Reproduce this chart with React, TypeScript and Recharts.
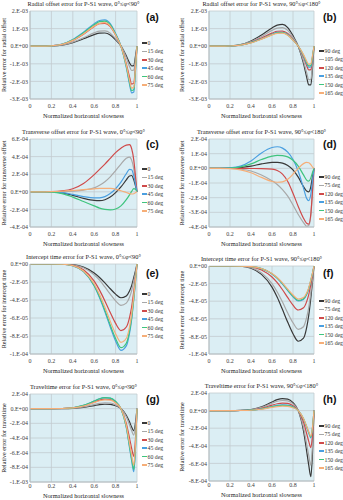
import React from 'react';
import { LineChart, Line, XAxis, YAxis, CartesianGrid } from 'recharts';

// ---- data ----
const X = [0, 0.1, 0.2, 0.3, 0.4, 0.5, 0.6, 0.65, 0.7, 0.75, 0.8, 0.85, 0.9, 0.93, 0.95, 0.97, 0.985, 1];
const X_TICKS = [0, 0.2, 0.4, 0.6, 0.8, 1];

const LEFT_NAMES = ['0', '15 deg', '30 deg', '45 deg', '60 deg', '75 deg'];
const RIGHT_NAMES_B = ['90 deg', '105 deg', '120 deg', '135 deg', '150 deg', '165 deg'];
const RIGHT_NAMES = ['90 deg', '75 deg', '120 deg', '135 deg', '150 deg', '165 deg'];

// (a) radial offset, 0-90 (x1e-3)
const A0 = [0, 0, 0.01, 0.06, 0.2, 0.42, 0.66, 0.74, 0.75, 0.64, 0.36, 0.02, -0.55, -0.95, -1.12, -1.1, -0.6, 0];
const A15 = [0, 0, 0.01, 0.07, 0.23, 0.48, 0.76, 0.86, 0.87, 0.74, 0.42, 0.02, -0.65, -1.15, -1.38, -1.35, -0.75, 0];
const A30 = [0, 0, 0.02, 0.1, 0.32, 0.68, 1.12, 1.28, 1.3, 1.12, 0.64, 0.0, -1.0, -1.75, -2.15, -2.1, -1.2, 0];
const A45 = [0, 0, 0.02, 0.12, 0.38, 0.8, 1.28, 1.46, 1.5, 1.28, 0.72, 0.0, -1.2, -2.15, -2.65, -2.6, -1.5, 0];
const A60 = [0, 0, 0.02, 0.11, 0.36, 0.76, 1.22, 1.4, 1.43, 1.22, 0.68, 0.0, -1.15, -2.05, -2.52, -2.48, -1.4, 0];
const A75 = [0, 0, 0.02, 0.1, 0.33, 0.7, 1.14, 1.3, 1.34, 1.14, 0.64, 0.0, -1.08, -1.92, -2.38, -2.33, -1.3, 0];

// (b) radial offset, 90-180 (x1e-3)
const B90 = [0, 0, 0.02, 0.09, 0.3, 0.64, 1.04, 1.2, 1.24, 1.06, 0.6, 0.0, -0.98, -1.75, -2.2, -2.2, -1.3, 0];
const B105 = [0, 0, 0.02, 0.08, 0.26, 0.55, 0.9, 1.03, 1.06, 0.9, 0.5, 0.0, -0.85, -1.5, -1.9, -1.9, -1.1, 0];
const B120 = [0, 0, 0.01, 0.07, 0.22, 0.46, 0.74, 0.85, 0.86, 0.72, 0.4, 0.0, -0.62, -1.1, -1.35, -1.33, -0.75, 0];
const B135 = [0, 0, 0.01, 0.06, 0.2, 0.42, 0.68, 0.78, 0.79, 0.66, 0.36, 0.0, -0.56, -0.98, -1.2, -1.18, -0.68, 0];
const B150 = [0, 0, 0.01, 0.06, 0.2, 0.41, 0.66, 0.76, 0.77, 0.64, 0.35, 0.0, -0.52, -0.92, -1.12, -1.1, -0.62, 0];
const B165 = [0, 0, 0.01, 0.06, 0.19, 0.4, 0.64, 0.73, 0.74, 0.62, 0.34, 0.0, -0.48, -0.85, -1.03, -1.0, -0.56, 0];

// (c) transverse offset, 0-90 (x1e-4)
const C0 = [0, 0, -0.02, -0.12, -0.4, -0.75, -0.98, -1.0, -0.9, -0.6, -0.1, 0.55, 1.35, 1.8, 1.85, 1.35, 0.7, 0];
const C15 = [0, 0, 0, 0.02, 0.08, 0.2, 0.45, 0.75, 1.15, 1.7, 2.4, 3.15, 3.8, 3.95, 3.6, 2.6, 1.3, 0];
const C30 = [0, 0, 0.02, 0.1, 0.35, 0.95, 1.95, 2.55, 3.15, 3.8, 4.45, 4.95, 5.3, 5.35, 4.9, 3.6, 1.9, 0];
const C45 = [0, 0, -0.02, -0.1, -0.3, -0.55, -0.7, -0.68, -0.55, -0.2, 0.35, 1.1, 2.05, 2.55, 2.5, 1.8, 0.9, 0];
const C60 = [0, 0, -0.03, -0.2, -0.6, -1.1, -1.6, -1.85, -2.0, -2.05, -1.95, -1.6, -0.9, -0.35, 0.05, 0.35, 0.3, 0];
const C75 = [0, 0, 0.01, 0.06, 0.15, 0.25, 0.34, 0.38, 0.4, 0.38, 0.3, 0.12, -0.08, -0.2, -0.25, -0.22, -0.1, 0];

// (d) transverse offset, 90-180 (x1e-4)
const D90 = [0, 0, 0.01, 0.05, 0.15, 0.3, 0.4, 0.41, 0.36, 0.2, -0.1, -0.6, -1.25, -1.55, -1.6, -1.25, -0.6, 0];
const D75 = [0, 0, -0.01, -0.06, -0.18, -0.45, -0.85, -1.1, -1.45, -1.9, -2.5, -3.15, -3.7, -3.95, -3.9, -3.2, -1.7, 0];
const D120 = [0, 0, 0, 0, -0.01, -0.02, -0.06, -0.15, -0.4, -0.9, -1.7, -2.6, -3.4, -3.75, -3.8, -3.1, -1.6, 0];
const D135 = [0, 0, 0.03, 0.15, 0.5, 1.05, 1.42, 1.47, 1.38, 1.1, 0.6, -0.2, -1.35, -2.05, -2.2, -1.75, -0.9, 0];
const D150 = [0, 0, 0.02, 0.1, 0.3, 0.6, 0.83, 0.88, 0.87, 0.78, 0.55, 0.15, -0.45, -0.8, -0.87, -0.65, -0.3, 0];
const D165 = [0, 0, -0.02, -0.1, -0.3, -0.62, -0.9, -0.95, -0.92, -0.75, -0.4, 0.0, 0.32, 0.4, 0.38, 0.25, 0.1, 0];

// (e) intercept time, 0-90 (x1e-5)
const E0 = [0, 0, 0, -0.01, -0.08, -0.35, -1.0, -1.5, -2.1, -2.75, -3.35, -3.75, -3.55, -3.0, -2.4, -1.5, -0.8, 0];
const E15 = [0, 0, 0, -0.01, -0.1, -0.42, -1.2, -1.8, -2.55, -3.35, -4.1, -4.6, -4.35, -3.7, -2.95, -1.85, -1.0, 0];
const E30 = [0, 0, 0, -0.02, -0.15, -0.65, -1.9, -2.9, -4.1, -5.4, -6.6, -7.4, -7.0, -5.95, -4.75, -3.0, -1.6, 0];
const E45 = [0, 0, 0, -0.03, -0.2, -0.85, -2.45, -3.75, -5.3, -7.0, -8.55, -9.6, -9.1, -7.7, -6.15, -3.9, -2.1, 0];
const E60 = [0, 0, 0, -0.03, -0.19, -0.82, -2.38, -3.63, -5.13, -6.78, -8.28, -9.3, -8.8, -7.45, -5.95, -3.8, -2.0, 0];
const E75 = [0, 0, 0, -0.03, -0.18, -0.77, -2.22, -3.4, -4.8, -6.35, -7.75, -8.7, -8.25, -7.0, -5.55, -3.55, -1.9, 0];

// (f) intercept time, 90-180 (x1e-5)
const F90 = [0, 0, 0, -0.03, -0.25, -0.95, -2.4, -3.55, -4.95, -6.4, -7.7, -8.55, -8.2, -7.0, -5.6, -3.6, -1.9, 0];
const F75 = [0, 0, 0, -0.02, -0.2, -0.78, -2.0, -2.95, -4.1, -5.35, -6.45, -7.2, -6.9, -5.85, -4.7, -3.0, -1.6, 0];
const F120 = [0, 0, 0, -0.01, -0.1, -0.45, -1.25, -1.9, -2.7, -3.6, -4.45, -5.0, -4.75, -4.05, -3.25, -2.1, -1.1, 0];
const F135 = [0, 0, 0, -0.01, -0.07, -0.3, -0.9, -1.4, -2.05, -2.8, -3.5, -3.98, -3.8, -3.25, -2.6, -1.65, -0.9, 0];
const F150 = [0, 0, 0, -0.01, -0.07, -0.3, -0.88, -1.37, -2.0, -2.74, -3.43, -3.9, -3.72, -3.18, -2.55, -1.62, -0.88, 0];
const F165 = [0, 0, 0, -0.01, -0.06, -0.28, -0.84, -1.31, -1.92, -2.64, -3.3, -3.75, -3.58, -3.06, -2.45, -1.56, -0.84, 0];

// (g) traveltime, 0-90 (x1e-4)
const G0 = [0, 0, 0, 0.01, 0.05, 0.18, 0.42, 0.54, 0.6, 0.58, 0.4, 0.02, -0.9, -1.8, -2.5, -3.0, -2.0, 0];
const G15 = [0, 0, 0, 0.01, 0.07, 0.24, 0.56, 0.72, 0.8, 0.77, 0.52, 0.02, -1.1, -2.2, -3.0, -3.6, -2.4, 0];
const G30 = [0, 0, 0, 0.02, 0.1, 0.38, 0.9, 1.17, 1.3, 1.25, 0.85, 0.0, -2.0, -4.0, -5.4, -6.5, -4.3, 0];
const G45 = [0, 0, 0, 0.02, 0.12, 0.44, 1.04, 1.35, 1.5, 1.45, 0.98, 0.0, -2.6, -5.3, -7.1, -8.6, -5.7, 0];
const G60 = [0, 0, 0, 0.02, 0.12, 0.44, 1.04, 1.35, 1.5, 1.45, 0.98, 0.0, -2.5, -5.1, -6.85, -8.3, -5.5, 0];
const G75 = [0, 0, 0, 0.02, 0.1, 0.36, 0.84, 1.08, 1.2, 1.16, 0.78, 0.0, -2.3, -4.7, -6.35, -7.7, -5.1, 0];

// (h) traveltime, 90-180 (x1e-4)
const H90 = [0, 0, 0, 0.02, 0.12, 0.42, 0.98, 1.24, 1.35, 1.3, 0.9, 0.0, -2.3, -4.6, -6.2, -7.5, -5.0, 0];
const H75 = [0, 0, 0, 0.02, 0.1, 0.36, 0.84, 1.06, 1.15, 1.1, 0.76, 0.0, -1.9, -3.8, -5.1, -6.2, -4.1, 0];
const H120 = [0, 0, 0, 0.01, 0.07, 0.26, 0.62, 0.78, 0.85, 0.82, 0.56, 0.0, -1.3, -2.6, -3.5, -4.2, -2.8, 0];
const H135 = [0, 0, 0, 0.01, 0.06, 0.2, 0.47, 0.6, 0.65, 0.62, 0.43, 0.0, -0.95, -1.9, -2.55, -3.1, -2.05, 0];
const H150 = [0, 0, 0, 0.01, 0.05, 0.18, 0.43, 0.55, 0.6, 0.57, 0.4, 0.0, -0.92, -1.84, -2.47, -3.0, -2.0, 0];
const H165 = [0, 0, 0, 0.01, 0.04, 0.15, 0.36, 0.46, 0.5, 0.48, 0.33, 0.0, -0.9, -1.78, -2.4, -2.9, -1.95, 0];

// y ticks (in scaled units) and their labels
const TICKS_A = [-3, -2, -1, 0, 1, 2];
const LABELS_A = ['-3.E-03', '-2.E-03', '-1.E-03', '0.E+00', '1.E-03', '2.E-03'];
const TICKS_C = [-4, -2, 0, 2, 4, 6];
const LABELS_C = ['-4.E-04', '-2.E-04', '0.E+00', '2.E-04', '4.E-04', '6.E-04'];
const TICKS_D = [-4, -3, -2, -1, 0, 1, 2];
const LABELS_D = ['-4.E-04', '-3.E-04', '-2.E-04', '-1.E-04', '0.E+00', '1.E-04', '2.E-04'];
const TICKS_E = [-10, -8, -6, -4, -2, 0];
const LABELS_E = ['-1.E-04', '-8.E-05', '-6.E-05', '-4.E-05', '-2.E-05', '0.E+00'];
const TICKS_G = [-10, -8, -6, -4, -2, 0, 2];
const LABELS_G = ['-1.E-03', '-8.E-04', '-6.E-04', '-4.E-04', '-2.E-04', '0.E+00', '2.E-04'];
const TICKS_H = [-8, -6, -4, -2, 0, 2];
const LABELS_H = ['-8.E-04', '-6.E-04', '-4.E-04', '-2.E-04', '0.E+00', '2.E-04'];

const COLORS = ['#383838', '#a8a8a8', '#cf4a4a', '#4a9fe0', '#3fc47e', '#f6ae78'];
const FONT = '"Liberation Serif", "Times New Roman", serif';

interface PanelCfg {
  left: number; top: number; w: number;
  plotTop: number; plotBottom: number; plotLeft: number; plotRight: number;
  title: string; ylabel: string; letter: string; letterY: number; legendY: number;
  ticks: number[]; labels: string[]; series: number[][]; names: string[]; ylabX: number;
  xTickGap: number; xLabGap: number;
}

const T_RAD_L = 'Radial offset error for P-S1 wave, 0°≤φ<90°';
const T_RAD_R = 'Radial offset error for P-S1 wave, 90°≤φ<180°';
const T_TRA_L = 'Transverse offset error for P-S1 wave, 0°≤φ<90°';
const T_TRA_R = 'Transverse offset error for P-S1 wave, 90°≤φ<180°';
const T_INT_L = 'Intercept time error for P-S1 wave, 0°≤φ<90°';
const T_INT_R = 'Intercept time error for P-S1 wave, 90°≤φ<180°';
const T_TT_L = 'Traveltime error for P-S1 wave, 0°≤φ<90°';
const T_TT_R = 'Traveltime error for P-S1 wave, 90°≤φ<180°';

const L = { left: 0, w: 172, plotLeft: 30, plotRight: 137, ylabX: 4 };
const R = { left: 172, w: 171, plotLeft: 209, plotRight: 314, ylabX: 182 };
const ROOMY = { xTickGap: 5, xLabGap: 16 };
const TIGHT = { xTickGap: 2, xLabGap: 13 };

const PANELS: PanelCfg[] = [
  { ...L, ...ROOMY, top: 0, plotTop: 11, plotBottom: 99, title: T_RAD_L, ylabel: 'Relative error for radial offset', letter: '(a)', letterY: 17, legendY: 43, ticks: TICKS_A, labels: LABELS_A, series: [A0, A15, A30, A45, A60, A75], names: LEFT_NAMES },
  { ...R, ...ROOMY, top: 0, plotTop: 11, plotBottom: 99, title: T_RAD_R, ylabel: 'Relative error for radial offset', letter: '(b)', letterY: 17, legendY: 51, ticks: TICKS_A, labels: LABELS_A, series: [B90, B105, B120, B135, B150, B165], names: RIGHT_NAMES_B },
  { ...L, ...ROOMY, top: 125, plotTop: 139, plotBottom: 227, title: T_TRA_L, ylabel: 'Relative error for transverse offset', letter: '(c)', letterY: 144, legendY: 169, ticks: TICKS_C, labels: LABELS_C, series: [C0, C15, C30, C45, C60, C75], names: LEFT_NAMES },
  { ...R, ...ROOMY, top: 125, plotTop: 139, plotBottom: 227, title: T_TRA_R, ylabel: 'Relative error for transverse offset', letter: '(d)', letterY: 144, legendY: 177, ticks: TICKS_D, labels: LABELS_D, series: [D90, D75, D120, D135, D150, D165], names: RIGHT_NAMES },
  { ...L, ...ROOMY, top: 250, plotTop: 264, plotBottom: 354, title: T_INT_L, ylabel: 'Relative error for intercept time', letter: '(e)', letterY: 273, legendY: 294, ticks: TICKS_E, labels: LABELS_E, series: [E0, E15, E30, E45, E60, E75], names: LEFT_NAMES },
  { ...R, ...ROOMY, top: 250, plotTop: 266, plotBottom: 354, title: T_INT_R, ylabel: 'Relative error for intercept time', letter: '(f)', letterY: 273, legendY: 301, ticks: TICKS_E, labels: LABELS_E, series: [F90, F75, F120, F135, F150, F165], names: RIGHT_NAMES },
  { ...L, ...TIGHT, top: 375, plotTop: 394, plotBottom: 482, title: T_TT_L, ylabel: 'Relative error for traveltime', letter: '(g)', letterY: 399, legendY: 423, ticks: TICKS_G, labels: LABELS_G, series: [G0, G15, G30, G45, G60, G75], names: LEFT_NAMES },
  { ...R, ...TIGHT, top: 375, plotTop: 393, plotBottom: 481, title: T_TT_R, ylabel: 'Relative error for traveltime', letter: '(h)', letterY: 399, legendY: 426, ticks: TICKS_H, labels: LABELS_H, series: [H90, H75, H120, H135, H150, H165], names: RIGHT_NAMES },
];

const H = 125;
const XAXIS_H = 9;

function Panel({ p }: { p: PanelCfg }) {
  const data = X.map((x, i) => {
    const r: Record<string, number> = { x };
    p.series.forEach((s, k) => { r['s' + k] = s[i]; });
    return r;
  });
  const margin = {
    top: p.plotTop - p.top,
    right: p.left + p.w - p.plotRight,
    bottom: p.top + H - p.plotBottom - XAXIS_H,
    left: 0,
  };
  const tickStyle = { fontSize: 6, fill: '#404040', fontFamily: FONT };
  const midX = (p.plotLeft + p.plotRight) / 2;
  const midY = (p.plotTop + p.plotBottom) / 2;
  const legendX = p.plotRight + 5;
  return (
    <>
      <div style={{ position: 'absolute', left: p.left, top: p.top }}>
        <LineChart width={p.w} height={H} data={data} margin={margin}>
          <CartesianGrid fill="#dbeef4" stroke="#c3cbcf" strokeWidth={0.8} />
          <XAxis dataKey="x" type="number" domain={[0, 1]} ticks={X_TICKS} interval={0}
            tickLine={false} tickSize={0} axisLine={{ stroke: '#b5bcc0' }} tick={tickStyle} height={XAXIS_H} tickMargin={p.xTickGap} />
          <YAxis type="number" domain={[p.ticks[0], p.ticks[p.ticks.length - 1]]} ticks={p.ticks} interval={0}
            tickFormatter={(v: number) => p.labels[p.ticks.indexOf(v)]} width={p.plotLeft - p.left}
            tickLine={false} tickSize={0} axisLine={{ stroke: '#b5bcc0' }} tick={tickStyle} tickMargin={2} allowDataOverflow />
          {p.series.map((_, k) => (
            <Line key={k} dataKey={'s' + k} type="monotone" stroke={COLORS[k]} strokeWidth={1.2}
              dot={false} activeDot={false} isAnimationActive={false} />
          ))}
        </LineChart>
      </div>
      <div style={{ position: 'absolute', left: midX - 90, width: 180, top: p.plotTop - 11, textAlign: 'center',
        fontFamily: FONT, fontSize: 6.3, lineHeight: '8px', color: '#222', whiteSpace: 'nowrap' }}>{p.title}</div>
      <div style={{ position: 'absolute', left: midX - 60, width: 120, top: p.plotBottom + p.xLabGap - 3.5, textAlign: 'center',
        fontFamily: FONT, fontSize: 6.3, lineHeight: '7px', height: 7, color: '#222', whiteSpace: 'nowrap' }}>Normalized horizontal slowness</div>
      <div style={{ position: 'absolute', left: p.ylabX - 70, width: 140, top: midY - 4, textAlign: 'center',
        fontFamily: FONT, fontSize: 6.2, lineHeight: '8px', color: '#222', whiteSpace: 'nowrap', transform: 'rotate(-90deg)' }}>{p.ylabel}</div>
      <div style={{ position: 'absolute', left: p.plotRight + 9, top: p.letterY - 7, fontFamily: '"Liberation Sans", Arial, sans-serif',
        fontWeight: 'bold', fontSize: 10.5, lineHeight: '14px', color: '#111' }}>{p.letter}</div>
      {p.names.map((n, k) => (
        <div key={k} style={{ position: 'absolute', left: legendX, top: p.legendY + k * 8.4 - 4, height: 8,
          display: 'flex', alignItems: 'center', fontFamily: FONT, fontSize: 5.8, color: '#333', whiteSpace: 'nowrap' }}>
          <span style={{ display: 'inline-block', width: 4.5, height: 1.5, background: COLORS[k], marginRight: 1 }} />
          {n}
        </div>
      ))}
    </>
  );
}

export default function App() {
  return (
    <div style={{ position: 'absolute', left: 0, top: 0, width: 343, height: 500, background: '#fff', overflow: 'hidden' }}>
      {PANELS.map((p, i) => <Panel key={i} p={p} />)}
    </div>
  );
}
